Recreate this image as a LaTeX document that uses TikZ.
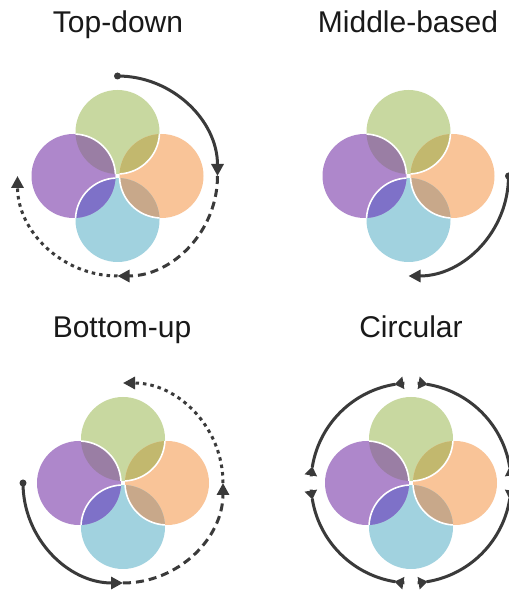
\documentclass[tikz,border=0pt]{standalone}
\usepackage{fontspec}
\setmainfont{Liberation Sans}
\usepackage{tikz}
\usetikzlibrary{calc, arrows.meta}

\definecolor{petalgreen}{RGB}{200,216,160}
\definecolor{petalorange}{RGB}{249,196,152}
\definecolor{petalblue}{RGB}{161,210,223}
\definecolor{petalpurple}{RGB}{174,135,203}
\definecolor{lensgp}{RGB}{154,126,164}
\definecolor{lensgo}{RGB}{194,184,110}
\definecolor{lensbo}{RGB}{200,168,138}
\definecolor{lensbp}{RGB}{126,113,200}
\definecolor{flowgray}{RGB}{58,58,58}

% four overlapping petals round a centre, pinwheel rims
\newcommand{\petals}[1]{%
    \fill[petalgreen]  ($(#1)+(0,44)$)  circle (42pt);
    \fill[petalorange] ($(#1)+(44,0)$)  circle (42pt);
    \fill[petalblue]   ($(#1)+(0,-44)$) circle (42pt);
    \fill[petalpurple] ($(#1)+(-44,0)$) circle (42pt);
    \begin{scope}
        \clip ($(#1)+(0,44)$) circle (42pt);
        \fill[lensgp] ($(#1)+(-44,0)$) circle (42pt);
        \fill[lensgo] ($(#1)+(44,0)$) circle (42pt);
    \end{scope}
    \begin{scope}
        \clip ($(#1)+(0,-44)$) circle (42pt);
        \fill[lensbp] ($(#1)+(-44,0)$) circle (42pt);
        \fill[lensbo] ($(#1)+(44,0)$) circle (42pt);
    \end{scope}
    % rim of the upper petal in each lens
    \draw[petalrim] ($(#1)+(-44,0)+(2.8:42)$)  arc[start angle=2.8,   end angle=87.2,  radius=42pt];
    \draw[petalrim] ($(#1)+(0,-44)+(92.8:42)$) arc[start angle=92.8,  end angle=177.2, radius=42pt];
    \draw[petalrim] ($(#1)+(44,0)+(182.8:42)$) arc[start angle=182.8, end angle=267.2, radius=42pt];
    \draw[petalrim] ($(#1)+(0,44)+(272.8:42)$) arc[start angle=272.8, end angle=357.2, radius=42pt];
}

\begin{document}
\begin{tikzpicture}[
        x=1pt, y=1pt,
        >={Triangle[length=12pt, width=12pt]},
        % Styling the titles and the flow lines
        title/.style={anchor=base, font=\fontsize{30pt}{32pt}\selectfont, text=black!90},
        petalrim/.style={draw=white, line width=1.6pt},
        flow/.style={draw=flowgray, line width=3pt},
        flowdash/.style={flow, dash pattern=on 8pt off 5pt},
        flowdot/.style={flow, dash pattern=on 3.5pt off 4pt},
        twinhead/.style={flow, -{Triangle[length=9pt, width=12pt]}},
        startdot/.style={fill=flowgray}
    ]

    \useasboundingbox[fill=white] (0,0) rectangle (509,590);

    % --- Centres of the four panels ---
    \coordinate (td) at (117.5,414);
    \coordinate (mb) at (408.5,414);
    \coordinate (bu) at (123,107);
    \coordinate (ci) at (411,107);

    % --- Titles ---
    \node[title] (tdtitle) at (118,557) {Top-down};
    \node[title] (mbtitle) at (408,557) {Middle-based};
    \node[title] (butitle) at (122,252) {Bottom-up};
    \node[title] (cititle) at (411,252) {Circular};

    % --- Petals ---
    \petals{td}
    \petals{mb}
    \petals{bu}
    \petals{ci}

    % --- Top-down: solid, dashed, dotted ---
    \coordinate (td-n) at ($(td)+(90:100)$);
    \coordinate (td-e) at ($(td)+(0:100)$);
    \coordinate (td-s) at ($(td)+(-90:100)$);
    \fill[startdot] (td-n) circle (3.5pt);
    \draw[flow, ->] (td-n) arc[start angle=90, end angle=0, radius=100pt];
    \draw[flowdash, ->] (td-e) arc[start angle=0, end angle=-90, radius=100pt];
    \draw[flowdot, ->] (td-s) arc[start angle=270, end angle=180, radius=100pt];

    % --- Middle-based: one solid arc ---
    \coordinate (mb-e) at ($(mb)+(0:100)$);
    \fill[startdot] (mb-e) circle (3.5pt);
    \draw[flow, ->] (mb-e) arc[start angle=0, end angle=-90, radius=100pt];

    % --- Bottom-up: solid, dashed, dotted ---
    \coordinate (bu-w) at ($(bu)+(180:100)$);
    \coordinate (bu-s) at ($(bu)+(-90:100)$);
    \coordinate (bu-e) at ($(bu)+(0:100)$);
    \fill[startdot] (bu-w) circle (3.5pt);
    \draw[flow, ->] (bu-w) arc[start angle=180, end angle=270, radius=100pt];
    \draw[flowdash, ->] (bu-s) arc[start angle=-90, end angle=0, radius=100pt];
    \draw[flowdot, ->] (bu-e) arc[start angle=0, end angle=90, radius=100pt];

    % --- Circular: a gap at each quarter, heads pointing away from it ---
    \foreach \ang in {90,0,-90,-180} {
        \draw[flow] ($(ci)+(\ang-9:100)$) arc[start angle=\ang-9, end angle=\ang-81, radius=100pt];
        \draw[twinhead] ($(ci)+(\ang-3.8:100)$) arc[start angle=\ang-3.8, end angle=\ang-9.5, radius=100pt];
        \draw[twinhead] ($(ci)+(\ang+3.8:100)$) arc[start angle=\ang+3.8, end angle=\ang+9.5, radius=100pt];
    }

\end{tikzpicture}
\end{document}
